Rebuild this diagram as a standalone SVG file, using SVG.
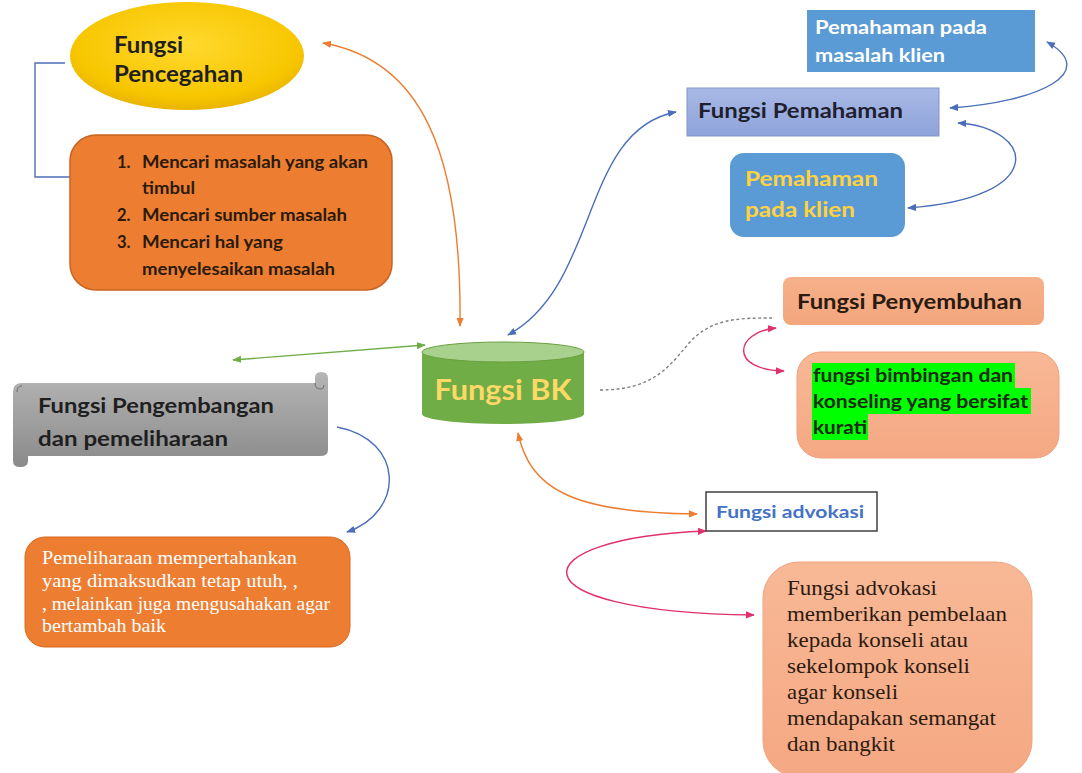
<svg xmlns="http://www.w3.org/2000/svg" width="1082" height="773" viewBox="0 0 1082 773">
<defs>
<style>
.t{font-family:Lato,"Open Sans","DejaVu Sans",sans-serif;font-weight:bold}
.s{font-family:"Liberation Serif","Times New Roman",serif}
.c{fill:none;stroke-width:1.4}
</style>
<radialGradient id="gEll" cx="50%" cy="40%" r="60%"><stop offset="0" stop-color="#ffd92e"/><stop offset="0.8" stop-color="#f7c600"/><stop offset="1" stop-color="#e9b400"/></radialGradient>
<linearGradient id="gLav" x1="0" y1="0" x2="0" y2="1"><stop offset="0" stop-color="#a9b9e6"/><stop offset="1" stop-color="#8ea3da"/></linearGradient>
<linearGradient id="gGray" x1="0" y1="0" x2="0" y2="1"><stop offset="0" stop-color="#b5b5b5"/><stop offset="1" stop-color="#8a8a8a"/></linearGradient>
<linearGradient id="gSal" x1="0" y1="0" x2="0" y2="1"><stop offset="0" stop-color="#f6b08a"/><stop offset="1" stop-color="#f3a67c"/></linearGradient>
<linearGradient id="gSal2" x1="0" y1="0" x2="0" y2="1"><stop offset="0" stop-color="#f8b896"/><stop offset="1" stop-color="#f5a883"/></linearGradient>
<marker id="mo" viewBox="0 0 10 10" refX="9" refY="5" markerWidth="9" markerHeight="9" markerUnits="userSpaceOnUse" orient="auto-start-reverse"><path d="M0,1 L10,5 L0,9 z" fill="#ed7d31"/></marker>
<marker id="mb" viewBox="0 0 10 10" refX="9" refY="5" markerWidth="9" markerHeight="9" markerUnits="userSpaceOnUse" orient="auto-start-reverse"><path d="M0,1 L10,5 L0,9 z" fill="#4a6fb8"/></marker>
<marker id="mg" viewBox="0 0 10 10" refX="9" refY="5" markerWidth="9" markerHeight="9" markerUnits="userSpaceOnUse" orient="auto-start-reverse"><path d="M0,1 L10,5 L0,9 z" fill="#70ad47"/></marker>
<marker id="mp" viewBox="0 0 10 10" refX="9" refY="5" markerWidth="9" markerHeight="9" markerUnits="userSpaceOnUse" orient="auto-start-reverse"><path d="M0,1 L10,5 L0,9 z" fill="#e0306e"/></marker>
</defs>
<rect width="1082" height="773" fill="#ffffff"/>

<g id="connectors">
<path class="c" d="M65,63 H35 V177 H70" stroke="#4a6fb8"/>
<path class="c" d="M323,43 C420,60 462,150 460,326" stroke="#ed7d31" marker-start="url(#mo)" marker-end="url(#mo)"/>
<path class="c" d="M508,335 C600,285 580,130 676,112" stroke="#4a6fb8" marker-start="url(#mb)" marker-end="url(#mb)"/>
<path class="c" d="M425,345 L233,360" stroke="#70ad47" marker-start="url(#mg)" marker-end="url(#mg)"/>
<path class="c" d="M950,108 C1040,102 1100,72 1047,42" stroke="#4a6fb8" marker-start="url(#mb)" marker-end="url(#mb)"/>
<path class="c" d="M958,123 C1035,128 1050,198 908,208" stroke="#4a6fb8" marker-start="url(#mb)" marker-end="url(#mb)"/>
<path class="c" d="M600,390 C655,390 670,365 690,342 C712,318 740,318 772,318" stroke="#7f7f7f" stroke-dasharray="3,2.5"/>
<path class="c" d="M776,328 C735,332 728,370 784,371" stroke="#e0306e" stroke-width="1.8" marker-start="url(#mp)" marker-end="url(#mp)"/>
<path class="c" d="M337,427 C405,440 405,512 347,532" stroke="#4a6fb8" marker-end="url(#mb)"/>
<path class="c" d="M518,433 C530,488 570,513 697,514" stroke="#ed7d31" stroke-width="1.6" marker-start="url(#mo)" marker-end="url(#mo)"/>
<path class="c" d="M706,531 C520,538 505,612 754,615" stroke="#e0306e" stroke-width="1.6" marker-start="url(#mp)" marker-end="url(#mp)"/>
</g>

<g id="pencegahan">
<ellipse cx="187" cy="56" rx="117" ry="54" fill="url(#gEll)"/>
<text class="t" x="114" y="53" font-size="23" fill="#1f1f1f" textLength="69" lengthAdjust="spacingAndGlyphs">Fungsi</text>
<text class="t" x="114" y="82" font-size="23" fill="#1f1f1f" textLength="129" lengthAdjust="spacingAndGlyphs">Pencegahan</text>
</g>

<g id="pencegahan-list">
<rect x="70" y="135" width="322" height="155" rx="26" fill="#ed7d31" stroke="#c8641f" stroke-width="1.5"/>
<g class="t" font-size="16.5" fill="#2a1a0a">
<text x="117" y="168">1.</text><text x="142" y="168" textLength="226" lengthAdjust="spacingAndGlyphs">Mencari masalah yang akan</text>
<text x="142" y="194" textLength="53" lengthAdjust="spacingAndGlyphs">timbul</text>
<text x="117" y="221">2.</text><text x="142" y="221" textLength="205" lengthAdjust="spacingAndGlyphs">Mencari sumber masalah</text>
<text x="117" y="248">3.</text><text x="142" y="248" textLength="141" lengthAdjust="spacingAndGlyphs">Mencari hal yang</text>
<text x="142" y="275" textLength="193" lengthAdjust="spacingAndGlyphs">menyelesaikan masalah</text>
</g>
</g>

<g id="pemahaman-masalah">
<rect x="807" y="10" width="228" height="62" fill="#5b9bd5"/>
<text class="t" x="815" y="34" font-size="18.5" fill="#ffffff" textLength="172" lengthAdjust="spacingAndGlyphs">Pemahaman pada</text>
<text class="t" x="815" y="62" font-size="18.5" fill="#ffffff" textLength="130" lengthAdjust="spacingAndGlyphs">masalah klien</text>
</g>

<g id="pemahaman">
<rect x="687" y="88" width="252" height="48" fill="url(#gLav)" stroke="#8394c8" stroke-width="1"/>
<text class="t" x="698" y="118" font-size="21" fill="#1f1f2f" textLength="205" lengthAdjust="spacingAndGlyphs">Fungsi Pemahaman</text>
</g>

<g id="pemahaman-klien">
<rect x="730" y="153" width="175" height="84" rx="14" fill="#5b9bd5"/>
<text class="t" x="745" y="186" font-size="21" fill="#ffd23f" textLength="133" lengthAdjust="spacingAndGlyphs">Pemahaman</text>
<text class="t" x="745" y="217" font-size="21" fill="#ffd23f" textLength="110" lengthAdjust="spacingAndGlyphs">pada klien</text>
</g>

<g id="penyembuhan">
<rect x="783" y="277" width="261" height="48" rx="8" fill="url(#gSal)"/>
<text class="t" x="797" y="309" font-size="21" fill="#2a1a10" textLength="225" lengthAdjust="spacingAndGlyphs">Fungsi Penyembuhan</text>
</g>

<g id="penyembuhan-detail">
<rect x="797" y="352" width="262" height="106" rx="24" fill="url(#gSal2)" stroke="#f0a07a" stroke-width="1"/>
<rect x="812" y="363" width="203" height="25" fill="#00ff00"/>
<rect x="812" y="388" width="219" height="26" fill="#00ff00"/>
<rect x="812" y="414" width="56" height="26" fill="#00ff00"/>
<g class="t" font-size="18.5" fill="#1a2a10">
<text x="813" y="382" textLength="200" lengthAdjust="spacingAndGlyphs">fungsi bimbingan dan</text>
<text x="813" y="408" textLength="215" lengthAdjust="spacingAndGlyphs">konseling yang bersifat</text>
<text x="813" y="434" textLength="54" lengthAdjust="spacingAndGlyphs">kurati</text>
</g>
</g>

<g id="fungsi-bk">
<path d="M422,352 V414 A81,10 0 0 0 584,414 V352 Z" fill="#70ad47"/>
<ellipse cx="503" cy="352" rx="81" ry="10" fill="#a9d18e" stroke="#6aa040" stroke-width="1"/>
<text class="t" x="503" y="400" font-size="29" fill="#ffd966" text-anchor="middle" textLength="137" lengthAdjust="spacingAndGlyphs">Fungsi BK</text>
</g>

<g id="pengembangan">
<path d="M13,392 Q13,383 22,383 H315 V378 Q315,372 321,372 Q328,372 328,378 V450 Q328,456 320,456 H28 V461 Q28,467 20,467 Q13,467 13,461 Z" fill="url(#gGray)"/>
<path d="M315,383 Q315,389 321,389 Q324,389 324,385" fill="none" stroke="#6e6e6e" stroke-width="1"/>
<path d="M17,392 Q17,386 22,386" fill="none" stroke="#6e6e6e" stroke-width="1"/>
<text class="t" x="38" y="413" font-size="21" fill="#1f1f1f" textLength="236" lengthAdjust="spacingAndGlyphs">Fungsi Pengembangan</text>
<text class="t" x="38" y="446" font-size="21" fill="#1f1f1f" textLength="190" lengthAdjust="spacingAndGlyphs">dan pemeliharaan</text>
</g>

<g id="pemeliharaan">
<rect x="25" y="537" width="325" height="110" rx="20" fill="#ed7d31" stroke="#d9691f" stroke-width="1"/>
<g class="s" font-size="18" fill="#ffffff">
<text x="42" y="564" textLength="255" lengthAdjust="spacingAndGlyphs">Pemeliharaan mempertahankan</text>
<text x="42" y="587" textLength="256" lengthAdjust="spacingAndGlyphs">yang dimaksudkan tetap utuh, ,</text>
<text x="42" y="610" textLength="288" lengthAdjust="spacingAndGlyphs">, melainkan juga mengusahakan agar</text>
<text x="42" y="632" textLength="124" lengthAdjust="spacingAndGlyphs">bertambah baik</text>
</g>
</g>

<g id="advokasi">
<rect x="706" y="492" width="171" height="39" fill="#ffffff" stroke="#404040" stroke-width="1.5"/>
<text class="t" x="716" y="518" font-size="17.5" fill="#4472c4" textLength="148" lengthAdjust="spacingAndGlyphs">Fungsi advokasi</text>
</g>

<g id="advokasi-detail">
<rect x="763" y="562" width="269" height="215" rx="36" fill="url(#gSal2)" stroke="#f2a47e" stroke-width="1"/>
<g class="s" font-size="22" fill="#2b1a10">
<text x="787" y="595" textLength="150" lengthAdjust="spacingAndGlyphs">Fungsi advokasi</text>
<text x="787" y="621" textLength="220" lengthAdjust="spacingAndGlyphs">memberikan pembelaan</text>
<text x="787" y="647" textLength="181" lengthAdjust="spacingAndGlyphs">kepada konseli atau</text>
<text x="787" y="673" textLength="183" lengthAdjust="spacingAndGlyphs">sekelompok konseli</text>
<text x="787" y="699" textLength="111" lengthAdjust="spacingAndGlyphs">agar konseli</text>
<text x="787" y="725" textLength="209" lengthAdjust="spacingAndGlyphs">mendapakan semangat</text>
<text x="787" y="751" textLength="108" lengthAdjust="spacingAndGlyphs">dan bangkit</text>
</g>
</g>
</svg>
